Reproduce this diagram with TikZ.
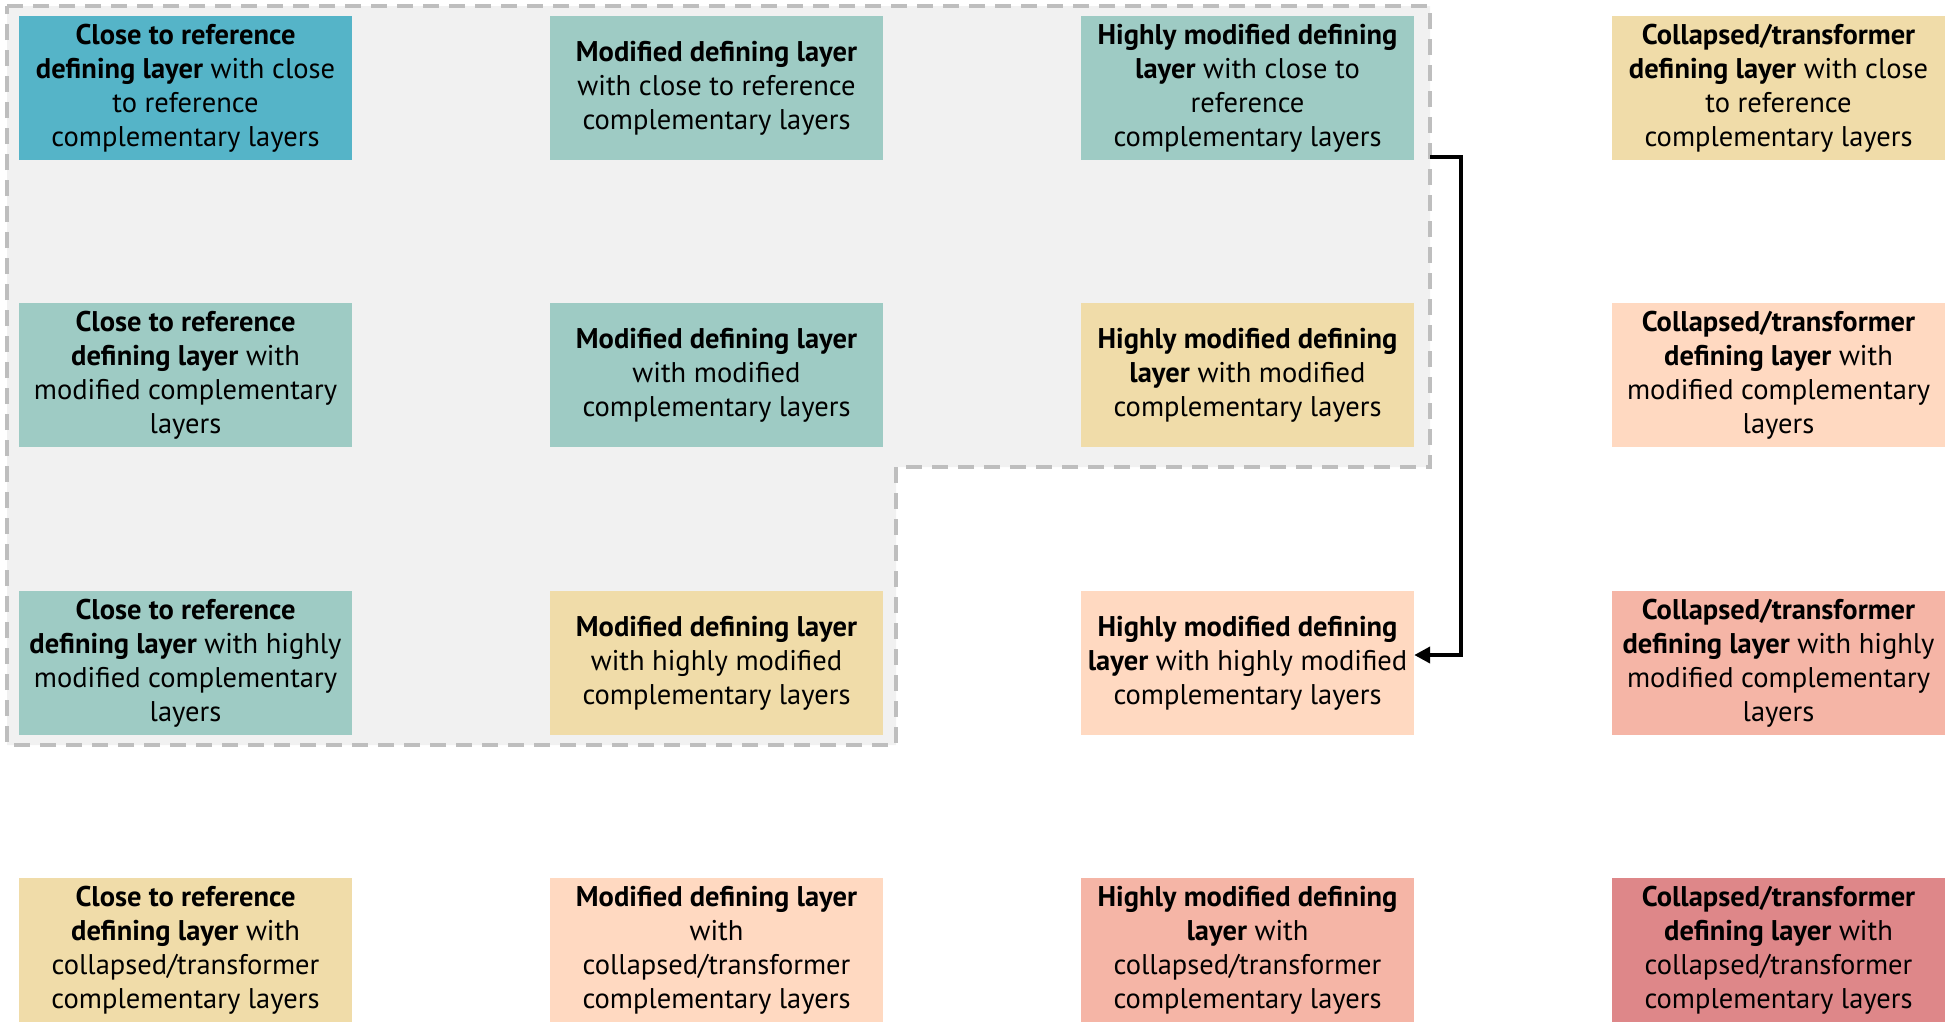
\documentclass[tikz,border=0pt]{standalone}
\usepackage{fontspec}
\setmainfont{PT Sans}
\usetikzlibrary{arrows.meta}
\definecolor{cblue}{HTML}{55B4C8}
\definecolor{cteal}{HTML}{9ECBC4}
\definecolor{cyell}{HTML}{F0DCA9}
\definecolor{cpeach}{HTML}{FFD9C1}
\definecolor{csalm}{HTML}{F5B5A6}
\definecolor{cred}{HTML}{DE8789}
\definecolor{cgfill}{HTML}{F1F1F1}
\definecolor{cgdash}{HTML}{BEBEBE}
\tikzset{
  cell/.style={minimum width=333pt, minimum height=144pt, inner sep=0pt, align=center,
    font=\fontsize{28.5}{34}\selectfont, text=black},
  region/.style={fill=cgfill, draw=cgdash, line width=4pt, dash pattern=on 16pt off 10pt},
  conn/.style={draw=black, line width=4pt, -{Triangle[length=16pt,width=16pt]}}
}
\begin{document}
\begin{tikzpicture}[x=1pt,y=-1pt]
\useasboundingbox (0,0) rectangle (1946,1023);
\draw[region] (7,6) -- (1430,6) -- (1430,467) -- (896,467) -- (896,745) -- (7,745) -- cycle;
\coordinate (brk) at (1430,157);
% row 1
\node[cell, fill=cblue] (r1c1) at (185.5,88) {\textbf{Close to reference}\\\textbf{defining layer} with close\\to reference\\complementary layers};
\node[cell, fill=cteal] (r1c2) at (716.5,88) {\textbf{Modified defining layer}\\with close to reference\\complementary layers};
\node[cell, fill=cteal] (r1c3) at (1247.5,88) {\textbf{Highly modified defining}\\\textbf{layer} with close to\\reference\\complementary layers};
\node[cell, fill=cyell] (r1c4) at (1778.5,88) {\textbf{Collapsed/transformer}\\\textbf{defining layer} with close\\to reference\\complementary layers};
% row 2
\node[cell, fill=cteal] (r2c1) at (185.5,375) {\textbf{Close to reference}\\\textbf{defining layer} with\\modified complementary\\layers};
\node[cell, fill=cteal] (r2c2) at (716.5,375) {\textbf{Modified defining layer}\\with modified\\complementary layers};
\node[cell, fill=cyell] (r2c3) at (1247.5,375) {\textbf{Highly modified defining}\\\textbf{layer} with modified\\complementary layers};
\node[cell, fill=cpeach] (r2c4) at (1778.5,375) {\textbf{Collapsed/transformer}\\\textbf{defining layer} with\\modified complementary\\layers};
% row 3
\node[cell, fill=cteal] (r3c1) at (185.5,663) {\textbf{Close to reference}\\\textbf{defining layer} with highly\\modified complementary\\layers};
\node[cell, fill=cyell] (r3c2) at (716.5,663) {\textbf{Modified defining layer}\\with highly modified\\complementary layers};
\node[cell, fill=cpeach] (r3c3) at (1247.5,663) {\textbf{Highly modified defining}\\\textbf{layer} with highly modified\\complementary layers};
\node[cell, fill=csalm] (r3c4) at (1778.5,663) {\textbf{Collapsed/transformer}\\\textbf{defining layer} with highly\\modified complementary\\layers};
% row 4
\node[cell, fill=cyell] (r4c1) at (185.5,950) {\textbf{Close to reference}\\\textbf{defining layer} with\\collapsed/transformer\\complementary layers};
\node[cell, fill=cpeach] (r4c2) at (716.5,950) {\textbf{Modified defining layer}\\with\\collapsed/transformer\\complementary layers};
\node[cell, fill=csalm] (r4c3) at (1247.5,950) {\textbf{Highly modified defining}\\\textbf{layer} with\\collapsed/transformer\\complementary layers};
\node[cell, fill=cred] (r4c4) at (1778.5,950) {\textbf{Collapsed/transformer}\\\textbf{defining layer} with\\collapsed/transformer\\complementary layers};
% connector
\draw[conn] (brk) -- ++(31,0) |- ([yshift=8pt]r3c3.east);
\end{tikzpicture}
\end{document}
